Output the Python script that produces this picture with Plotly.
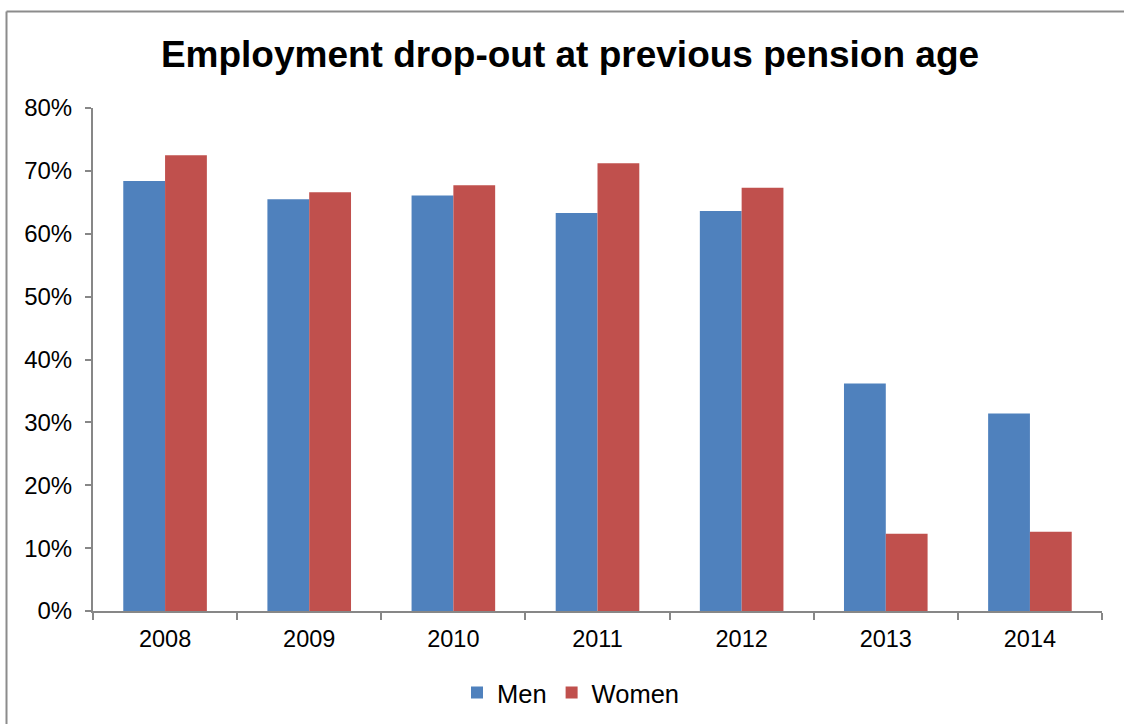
import plotly.graph_objects as go

years = ["2008", "2009", "2010", "2011", "2012", "2013", "2014"]
men = [0.684, 0.655, 0.661, 0.633, 0.636, 0.362, 0.314]
women = [0.725, 0.666, 0.677, 0.712, 0.673, 0.123, 0.126]
y_ticks = [0, 0.1, 0.2, 0.3, 0.4, 0.5, 0.6, 0.7, 0.8]
y_tick_labels = ["0%", "10%", "20%", "30%", "40%", "50%", "60%", "70%", "80%"]

W, H = 1124, 724
L, R, T, B = 93, 22, 108, 113
pw, ph = W - L - R, H - T - B

fig = go.Figure()
fig.add_trace(go.Bar(x=years, y=men, name="Men", marker=dict(color="#4F81BD", line=dict(width=0))))
fig.add_trace(go.Bar(x=years, y=women, name="Women", marker=dict(color="#C0504D", line=dict(width=0))))

axis_color = "#878787"
font = "Liberation Sans, Arial, sans-serif"

fig.update_layout(
    width=W, height=H,
    margin=dict(l=L, r=R, t=T, b=B, autoexpand=False),
    paper_bgcolor="white", plot_bgcolor="white",
    barmode="group", bargap=0.42, bargroupgap=0,
    font=dict(family=font, size=23, color="black"),
    title=dict(text="<b>Employment drop-out at previous pension age</b>",
               font=dict(family=font, size=37, color="black"),
               x=(570 - L) / pw, xref="paper", xanchor="center",
               y=1 - 54 / H, yref="container", yanchor="middle"),
    showlegend=True,
    legend=dict(orientation="h", x=(571 - L) / pw, xanchor="center",
                y=-(693 - (T + ph)) / ph, yanchor="middle",
                font=dict(family=font, size=25.5, color="black"),
                itemwidth=30, traceorder="normal"),
    xaxis=dict(showgrid=False, showline=True, linecolor=axis_color, linewidth=2,
               ticks="outside", tickson="boundaries", ticklen=7, tickcolor=axis_color, tickwidth=2,
               ticklabelstandoff=6,
               tickfont=dict(family=font, size=23.5, color="black")),
    yaxis=dict(range=[0, 0.8], tickvals=y_ticks, ticktext=y_tick_labels,
               showgrid=False, zeroline=False, showline=True, linecolor=axis_color, linewidth=2,
               ticks="outside", ticklen=6, tickcolor=axis_color, tickwidth=2,
               ticklabelstandoff=8,
               tickfont=dict(family=font, size=24, color="black")),
)

# outer chart border (left and top edges visible)
bx = (6.5 - L) / pw
by = (T + ph - 11.5) / ph
fig.add_shape(type="line", xref="paper", yref="paper", x0=bx, x1=bx, y0=by, y1=-(H - T - ph + 5) / ph,
              line=dict(color="#8c8c8c", width=2))
fig.add_shape(type="line", xref="paper", yref="paper", x0=bx, x1=(W + 5 - L) / pw, y0=by, y1=by,
              line=dict(color="#8c8c8c", width=2))

fig.write_html("out.html")
